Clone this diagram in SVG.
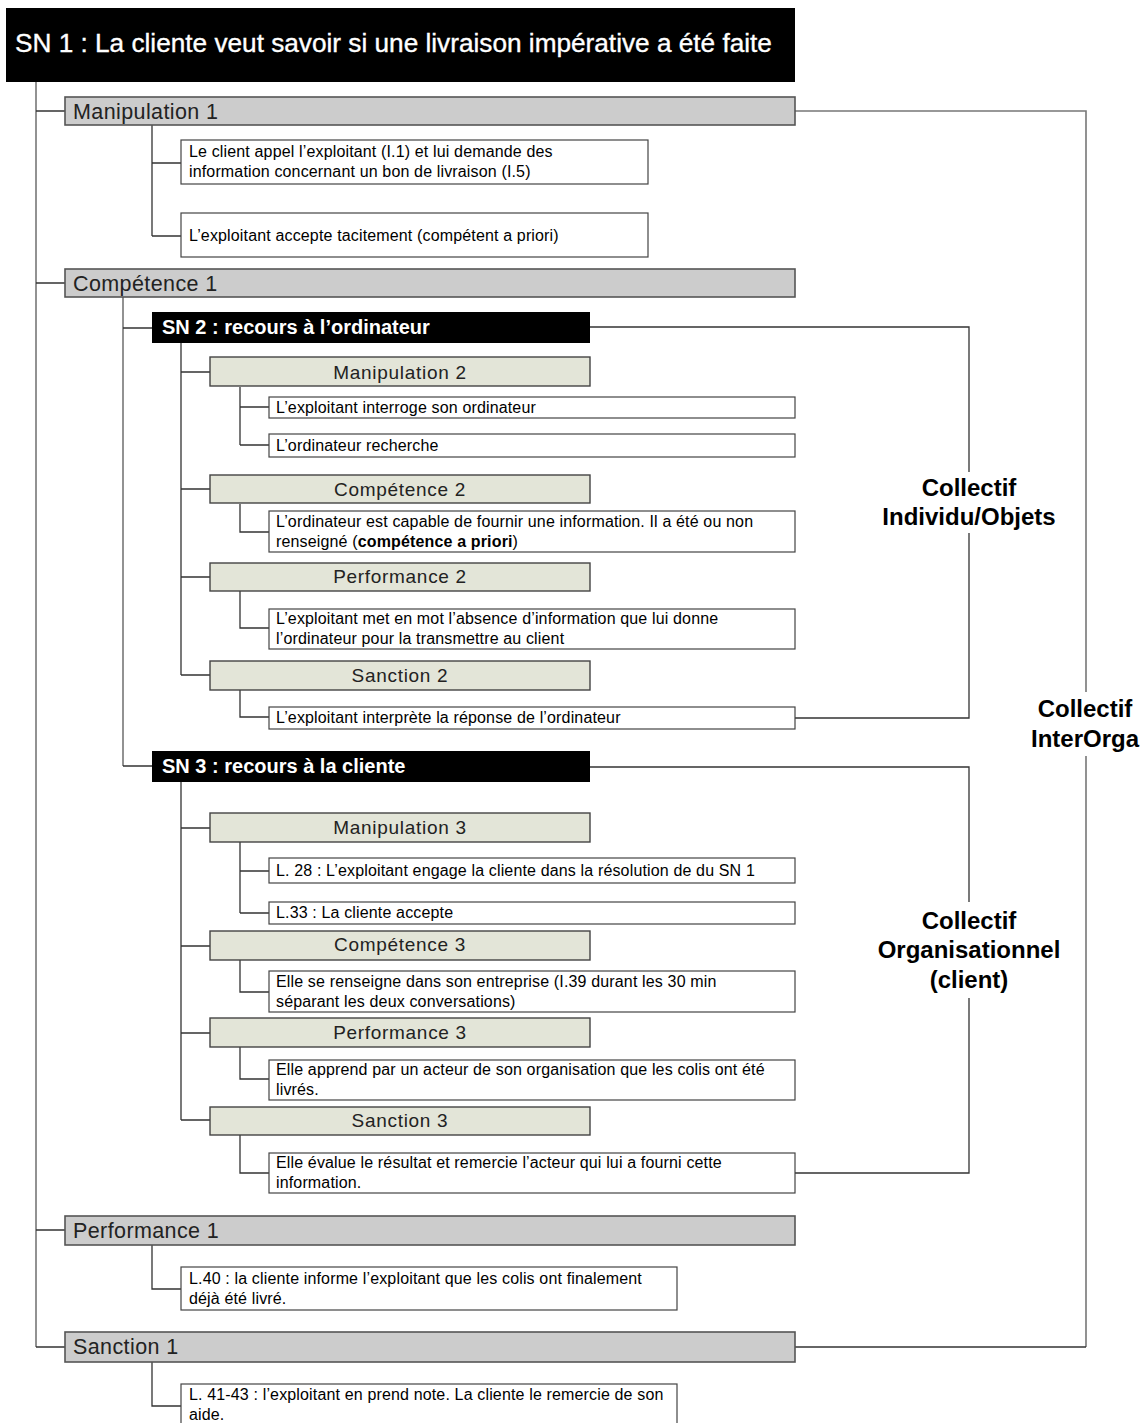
<svg xmlns="http://www.w3.org/2000/svg" width="1142" height="1423" viewBox="0 0 1142 1423">
<style>
.bg{fill:#fff}
.sn{fill:#000}
.snt{font-family:"Liberation Sans",Arial,sans-serif;fill:#fff}
.l1{fill:#cccccc;stroke:#555;stroke-width:1.6}
.l1t{font-family:"Liberation Sans",Arial,sans-serif;font-size:21.5px;fill:#222;letter-spacing:0.4px}
.l2{fill:#e3e5d8;stroke:#444;stroke-width:1.4}
.l2t{font-family:"Liberation Sans",Arial,sans-serif;font-size:19px;fill:#222;letter-spacing:0.7px;text-anchor:middle}
.bx{fill:#fff;stroke:#444;stroke-width:1.2}
.bt{font-family:"Liberation Sans",Arial,sans-serif;font-size:16px;letter-spacing:0.15px;fill:#000}
.ct{font-family:"Liberation Sans",Arial,sans-serif;font-size:24px;font-weight:bold;fill:#000;text-anchor:middle}
.cn{fill:none;stroke:#333;stroke-width:1.3}
.cg{fill:none;stroke:#777;stroke-width:1.6}
</style>
<rect class="bg" x="0" y="0" width="1142" height="1423"/>

<g id="connectors">
  <path class="cg" d="M36,82 V1347"/>
  <path class="cn" d="M36,111 H65 M36,283 H65 M36,1230 H65 M36,1347 H65"/>
  <path class="cn" d="M152,125 V236 M152,163 H181 M152,236 H181"/>
  <path class="cg" d="M123,297 V766"/>
  <path class="cn" d="M123,328 H152 M123,766 H152"/>
  <path class="cn" d="M181,343 V675 M181,372 H210 M181,489 H210 M181,577 H210 M181,675 H210"/>
  <path class="cn" d="M240,387 V445 M240,407 H269 M240,445 H269"/>
  <path class="cn" d="M240,504 V532 H269"/>
  <path class="cn" d="M240,591 V628 H269"/>
  <path class="cn" d="M240,690 V717 H269"/>
  <path class="cn" d="M181,782 V1120 M181,828 H210 M181,946 H210 M181,1033 H210 M181,1120 H210"/>
  <path class="cn" d="M240,842 V913 M240,871 H269 M240,913 H269"/>
  <path class="cn" d="M240,960 V992 H269"/>
  <path class="cn" d="M240,1047 V1079 H269"/>
  <path class="cn" d="M240,1135 V1173 H269"/>
  <path class="cn" d="M152,1245 V1289 H181"/>
  <path class="cn" d="M152,1362 V1406 H181"/>
  <path class="cn" d="M590,327 H969 V472 M969,533 V718 H795"/>
  <path class="cn" d="M590,767 H969 V902 M969,998 V1173 H795"/>
  <path class="cg" d="M795,111 H1086 V692 M1086,756 V1347"/>
  <path class="cn" d="M795,1347 H1086"/>
</g>

<g id="sn1">
  <rect class="sn" x="6" y="8" width="789" height="74"/>
  <text class="snt" x="15" y="52" font-size="26.2" stroke="#fff" stroke-width="0.35">SN 1 : La cliente veut savoir si une livraison impérative a été faite</text>
</g>

<g id="manipulation1">
  <rect class="l1" x="65" y="97" width="730" height="28"/>
  <text class="l1t" x="73" y="119">Manipulation 1</text>
</g>
<g id="m1a">
  <rect class="bx" x="181" y="140" width="467" height="44"/>
  <text class="bt" x="189" y="157">Le client appel l’exploitant  (I.1) et lui demande des</text>
  <text class="bt" x="189" y="177">information concernant un bon de livraison (I.5)</text>
</g>
<g id="m1b">
  <rect class="bx" x="181" y="213" width="467" height="44"/>
  <text class="bt" x="189" y="241">L’exploitant accepte tacitement (compétent a priori)</text>
</g>

<g id="competence1">
  <rect class="l1" x="65" y="269" width="730" height="28"/>
  <text class="l1t" x="73" y="291">Compétence 1</text>
</g>

<g id="sn2">
  <rect class="sn" x="152" y="312" width="438" height="31"/>
  <text class="snt" x="162" y="334" font-size="20" font-weight="bold">SN 2 : recours à l’ordinateur</text>
</g>
<g id="manipulation2">
  <rect class="l2" x="210" y="357" width="380" height="29"/>
  <text class="l2t" x="400" y="379">Manipulation 2</text>
</g>
<g id="m2a">
  <rect class="bx" x="269" y="397" width="526" height="21"/>
  <text class="bt" x="276" y="413">L’exploitant interroge son ordinateur</text>
</g>
<g id="m2b">
  <rect class="bx" x="269" y="434" width="526" height="23"/>
  <text class="bt" x="276" y="451">L’ordinateur recherche</text>
</g>
<g id="competence2">
  <rect class="l2" x="210" y="475" width="380" height="28"/>
  <text class="l2t" x="400" y="496">Compétence 2</text>
</g>
<g id="c2a">
  <rect class="bx" x="269" y="511" width="526" height="41"/>
  <text class="bt" x="276" y="527">L’ordinateur est capable de fournir une information. Il a été ou non</text>
  <text class="bt" x="276" y="547">renseigné (<tspan font-weight="bold">compétence a priori</tspan>)</text>
</g>
<g id="performance2">
  <rect class="l2" x="210" y="563" width="380" height="28"/>
  <text class="l2t" x="400" y="583">Performance 2</text>
</g>
<g id="p2a">
  <rect class="bx" x="269" y="609" width="526" height="40"/>
  <text class="bt" x="276" y="624">L’exploitant met en mot l’absence d’information que lui donne</text>
  <text class="bt" x="276" y="644">l’ordinateur pour la transmettre au client</text>
</g>
<g id="sanction2">
  <rect class="l2" x="210" y="661" width="380" height="29"/>
  <text class="l2t" x="400" y="682">Sanction 2</text>
</g>
<g id="s2a">
  <rect class="bx" x="269" y="707" width="526" height="22"/>
  <text class="bt" x="276" y="723">L’exploitant interprète la réponse de l’ordinateur</text>
</g>

<g id="sn3">
  <rect class="sn" x="152" y="751" width="438" height="31"/>
  <text class="snt" x="162" y="773" font-size="20" font-weight="bold">SN 3 : recours à la cliente</text>
</g>
<g id="manipulation3">
  <rect class="l2" x="210" y="813" width="380" height="29"/>
  <text class="l2t" x="400" y="834">Manipulation 3</text>
</g>
<g id="m3a">
  <rect class="bx" x="269" y="858" width="526" height="25"/>
  <text class="bt" x="276" y="876">L. 28 : L’exploitant engage la cliente dans la résolution de du SN  1</text>
</g>
<g id="m3b">
  <rect class="bx" x="269" y="902" width="526" height="22"/>
  <text class="bt" x="276" y="918">L.33 : La cliente accepte</text>
</g>
<g id="competence3">
  <rect class="l2" x="210" y="931" width="380" height="29"/>
  <text class="l2t" x="400" y="951">Compétence 3</text>
</g>
<g id="c3a">
  <rect class="bx" x="269" y="971" width="526" height="41"/>
  <text class="bt" x="276" y="987">Elle se renseigne dans son entreprise (I.39 durant les 30 min</text>
  <text class="bt" x="276" y="1007">séparant les deux conversations)</text>
</g>
<g id="performance3">
  <rect class="l2" x="210" y="1018" width="380" height="29"/>
  <text class="l2t" x="400" y="1039">Performance 3</text>
</g>
<g id="p3a">
  <rect class="bx" x="269" y="1060" width="526" height="40"/>
  <text class="bt" x="276" y="1075">Elle apprend par un acteur de son organisation que les colis ont été</text>
  <text class="bt" x="276" y="1095">livrés.</text>
</g>
<g id="sanction3">
  <rect class="l2" x="210" y="1107" width="380" height="28"/>
  <text class="l2t" x="400" y="1127">Sanction 3</text>
</g>
<g id="s3a">
  <rect class="bx" x="269" y="1153" width="526" height="40"/>
  <text class="bt" x="276" y="1168">Elle évalue le résultat et remercie l’acteur qui lui a fourni cette</text>
  <text class="bt" x="276" y="1188">information.</text>
</g>

<g id="performance1">
  <rect class="l1" x="65" y="1216" width="730" height="29"/>
  <text class="l1t" x="73" y="1238">Performance 1</text>
</g>
<g id="p1a">
  <rect class="bx" x="181" y="1267" width="496" height="43"/>
  <text class="bt" x="189" y="1284">L.40 : la cliente informe l’exploitant que les colis ont finalement</text>
  <text class="bt" x="189" y="1304">déjà été livré.</text>
</g>
<g id="sanction1">
  <rect class="l1" x="65" y="1332" width="730" height="30"/>
  <text class="l1t" x="73" y="1354">Sanction 1</text>
</g>
<g id="s1a">
  <rect class="bx" x="181" y="1384" width="496" height="50"/>
  <text class="bt" x="189" y="1400">L. 41-43 : l’exploitant en prend note. La cliente le remercie de son</text>
  <text class="bt" x="189" y="1420">aide.</text>
</g>

<g id="collectif-individu">
  <text class="ct" x="969" y="496">Collectif</text>
  <text class="ct" x="969" y="525">Individu/Objets</text>
</g>
<g id="collectif-orga">
  <text class="ct" x="969" y="929">Collectif</text>
  <text class="ct" x="969" y="958">Organisationnel</text>
  <text class="ct" x="969" y="988">(client)</text>
</g>
<g id="collectif-interorga">
  <text class="ct" x="1085" y="717">Collectif</text>
  <text class="ct" x="1085" y="747">InterOrga</text>
</g>
</svg>
